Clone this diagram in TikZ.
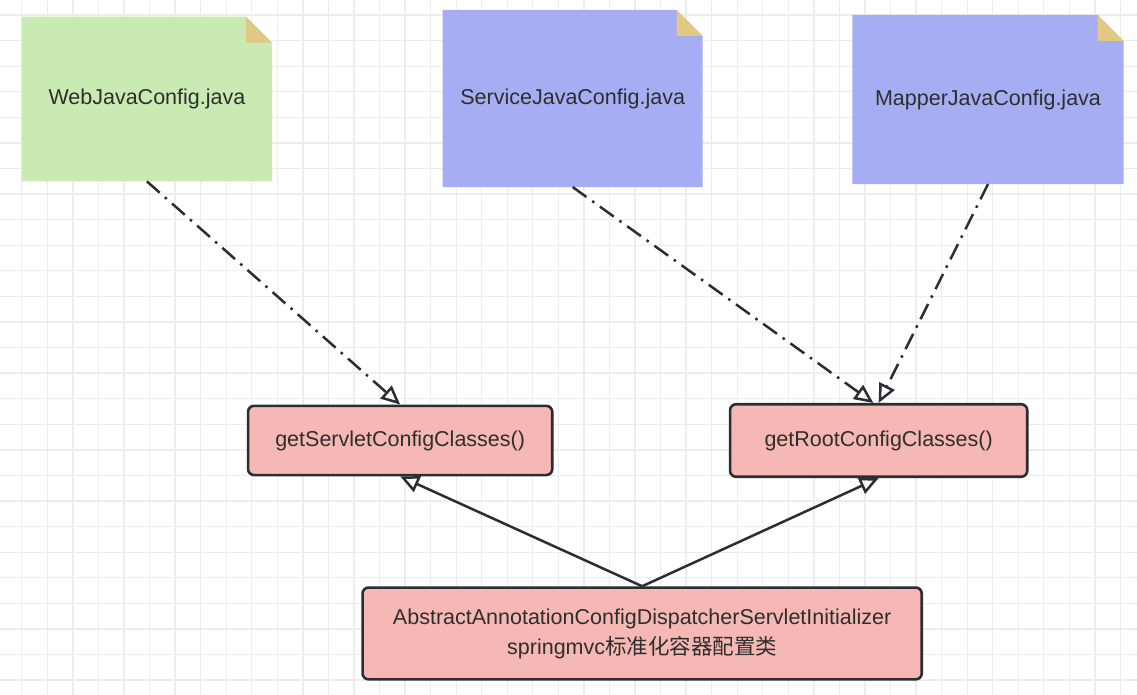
\documentclass[tikz,border=0pt]{standalone}
\usepackage{fontspec}
\setmainfont{Liberation Sans}
\newfontfamily\cjk{Noto Sans CJK SC}
\usetikzlibrary{arrows.meta,calc}

\definecolor{gridline}{HTML}{EDEDED}
\definecolor{webfill}{HTML}{C9EBB3}
\definecolor{cfgfill}{HTML}{A6ADF2}
\definecolor{foldfill}{HTML}{E1C985}
\definecolor{methodfill}{HTML}{F5B8B4}
\definecolor{edgeline}{HTML}{2A2E33}
\definecolor{txt}{HTML}{2E2E2E}

\pgfdeclarelayer{grid}
\pgfdeclarelayer{paper}
\pgfsetlayers{grid,paper,main}

% folded-corner note body drawn behind a named node
\newcommand\notepaper[2]{%
  \begin{pgfonlayer}{paper}
    \fill[#2] (#1.north west) -- ($(#1.north east)+(-26,0)$) -- ($(#1.north east)+(0,26)$)
      -- (#1.south east) -- (#1.south west) -- cycle;
    \fill[foldfill] ($(#1.north east)+(-26,0)$) -- ($(#1.north east)+(-26,26)$)
      -- ($(#1.north east)+(0,26)$) -- cycle;
  \end{pgfonlayer}}

\begin{document}
\begin{tikzpicture}[x=1pt,y=-1pt,
  font=\fontsize{21.5}{30}\selectfont, text=txt,
  notebox/.style={anchor=north west, inner sep=0pt},
  method/.style={anchor=north west, inner sep=0pt, draw=edgeline, line width=2.6pt,
    fill=methodfill, rounded corners=6pt, align=center},
  dashdot/.style={draw=edgeline, line width=2.5pt,
    dash pattern=on 17pt off 7pt on 2.5pt off 7pt,
    -{Triangle[open, length=19pt, width=17pt]}},
  solidarrow/.style={draw=edgeline, line width=2.5pt,
    -{Triangle[open, length=19pt, width=17pt]}}]

\useasboundingbox (0,0) rectangle (1137,695);

% background grid
\begin{pgfonlayer}{grid}
  \fill[white] (0,0) rectangle (1137,695);
  \foreach \i in {0,...,43}
    \draw[gridline, line width=1.3pt] ({21.8+25.55*\i},0) -- ++(0,695);
  \foreach \j in {0,...,26}
    \draw[gridline, line width=1.3pt] (0,{15+25.58*\j}) -- ++(1137,0);
\end{pgfonlayer}

% configuration notes
\node[notebox, minimum width=250pt, minimum height=164.3pt] (web) at (21.7,16.7) {WebJavaConfig.java};
\node[notebox, minimum width=259.6pt, minimum height=176.7pt] (service) at (442.7,10) {ServiceJavaConfig.java};
\node[notebox, minimum width=271pt, minimum height=168.7pt] (mapper) at (852.3,15) {MapperJavaConfig.java};
\notepaper{web}{webfill}
\notepaper{service}{cfgfill}
\notepaper{mapper}{cfgfill}

% initializer methods
\node[method, minimum width=304.2pt, minimum height=69.2pt] (servlet) at (246.75,404.55) {getServletConfigClasses()};
\node[method, minimum width=297.2pt, minimum height=72.5pt] (root) at (728.75,402.95) {getRootConfigClasses()};
\node[method, minimum width=559.2pt, minimum height=91.8pt] (init) at (361.25,586.25)
  {AbstractAnnotationConfigDispatcherServletInitializer\\springmvc{\cjk 标准化容器配置类}};

% connectors
\draw[dashdot] (web.south) -- (servlet.north);
\draw[dashdot] (service.south) -- (root.98);
\draw[dashdot] (mapper.south) -- (root.north);
\draw[solidarrow] (init.north) -- (servlet.south);
\draw[solidarrow] (init.north) -- (root.south);

\end{tikzpicture}
\end{document}
